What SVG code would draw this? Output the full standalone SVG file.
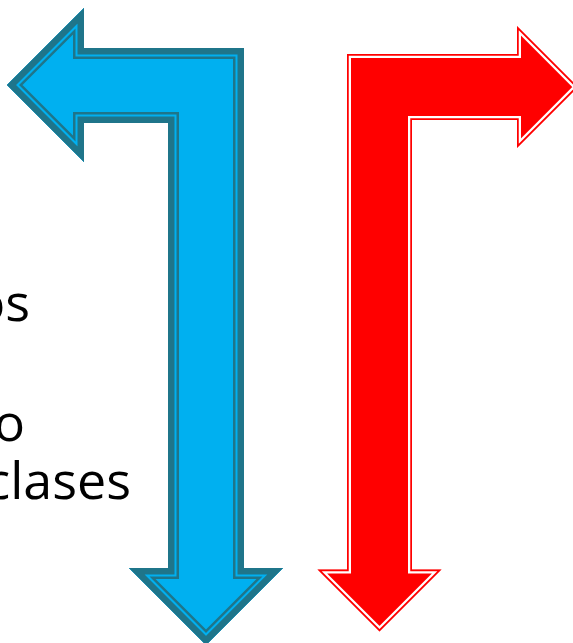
<svg xmlns="http://www.w3.org/2000/svg" xmlns:xlink="http://www.w3.org/1999/xlink" width="573" height="643" viewBox="0 0 573 643">
  <style>
    .txt { font-family: "Open Sans", "Liberation Sans", sans-serif; font-size: 52px; fill: #000000; text-anchor: end; }
    .b-fill { fill: #00B0F0; }
    .b-dark { fill: none; stroke: #1F758A; stroke-linejoin: miter; }
    .b-light { fill: none; stroke: #00B0F0; stroke-linejoin: miter; }
    .r-fill { fill: #FF0000; }
    .r-red { fill: none; stroke: #FF0000; stroke-linejoin: miter; }
    .r-white { fill: none; stroke: #FFFFFF; stroke-linejoin: miter; }
  </style>
  <defs>
    <path id="blueShape" d="M84,48 L244,48 L244,568 L283,568 L206,645 L129,568 L168,568 L168,123 L84,123 L84,162 L7,85 L84,8 Z"/>
    <path id="redShape" d="M347,54 L517,54 L517,26 L578,87 L517,148 L517,120 L412,120 L412,569.5 L441.5,569.5 L379.5,631.5 L317.5,569.5 L347,569.5 Z"/>
    <clipPath id="blueClip"><use xlink:href="#blueShape"/></clipPath>
    <clipPath id="redClip"><use xlink:href="#redShape"/></clipPath>
  </defs>
  <rect x="0" y="0" width="573" height="643" fill="#FFFFFF"/>

  <g id="text-left">
    <text class="txt" x="30" y="321">os</text>
    <text class="txt" x="25" y="441">o</text>
    <text class="txt" x="131" y="499">clases</text>
  </g>

  <g id="blue-arrow">
    <use xlink:href="#blueShape" class="b-fill"/>
    <g clip-path="url(#blueClip)">
      <use xlink:href="#blueShape" class="b-dark" stroke-width="22"/>
      <use xlink:href="#blueShape" class="b-light" stroke-width="17"/>
      <use xlink:href="#blueShape" class="b-dark" stroke-width="13"/>
    </g>
  </g>

  <g id="red-arrow">
    <use xlink:href="#redShape" class="r-fill"/>
    <g clip-path="url(#redClip)">
      <use xlink:href="#redShape" class="r-white" stroke-width="8"/>
      <use xlink:href="#redShape" class="r-red" stroke-width="3.5"/>
    </g>
  </g>

  <g id="connectors"/>
</svg>
